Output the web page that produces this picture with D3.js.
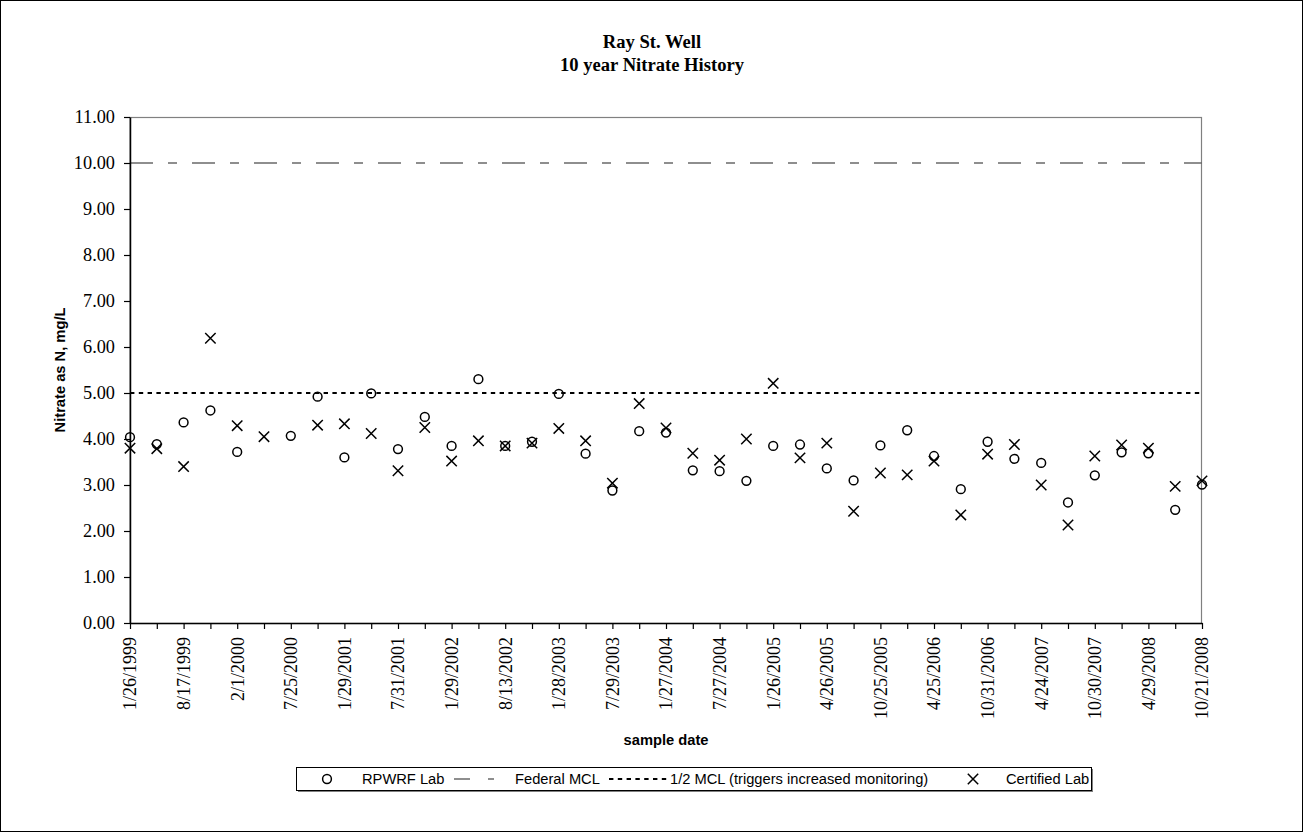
<!DOCTYPE html>
<html>
<head>
<meta charset="utf-8">
<script src="https://cdn.jsdelivr.net/npm/d3@7"></script>
<style>
  html, body { margin: 0; padding: 0; background: #fff; }
  svg { display: block; }
</style>
</head>
<body>
<svg id="chart" width="1303" height="832"></svg>
<script>
// Sample dates in order; only every other date is printed on the axis.
const sampleDates = [
  "1/26/1999", null, "8/17/1999", null, "2/1/2000", null, "7/25/2000", null,
  "1/29/2001", null, "7/31/2001", null, "1/29/2002", null, "8/13/2002", null,
  "1/28/2003", null, "7/29/2003", null, "1/27/2004", null, "7/27/2004", null,
  "1/26/2005", null, "4/26/2005", null, "10/25/2005", null, "4/25/2006", null,
  "10/31/2006", null, "4/24/2007", null, "10/30/2007", null, "4/29/2008", null,
  "10/21/2008"
];

// Nitrate as N (mg/L), in-house RPWRF lab results
const rpwrfLab = [
  4.04, 3.89, 4.36, 4.62, 3.72, null, 4.07, 4.92, 3.60, 4.99,
  3.78, 4.48, 3.85, 5.30, 3.85, 3.94, 4.98, 3.68, 2.88, 4.17,
  4.14, 3.32, 3.30, 3.09, 3.85, 3.88, 3.36, 3.10, 3.86, 4.19,
  3.63, 2.91, 3.94, 3.57, 3.48, 2.62, 3.21, 3.71, 3.69, 2.46,
  3.01
];

// Nitrate as N (mg/L), certified lab results
const certifiedLab = [
  3.80, 3.79, 3.40, 6.19, 4.29, 4.05, null, 4.30, 4.33, 4.12,
  3.31, 4.25, 3.52, 3.96, 3.85, 3.91, 4.23, 3.96, 3.04, 4.77,
  4.24, 3.69, 3.54, 4.00, 5.21, 3.59, 3.91, 2.43, 3.26, 3.22,
  3.52, 2.35, 3.67, 3.88, 3.00, 2.13, 3.63, 3.87, 3.80, 2.97,
  3.09
];

const federalMCL = 10;
const halfMCL = 5;
const yTicks = [0, 1, 2, 3, 4, 5, 6, 7, 8, 9, 10, 11];

const W = 1303, H = 832;
const plot = { left: 130, right: 1202, top: 117, bottom: 623 };
const serif = "'Liberation Serif', 'Times New Roman', serif";
const sans = "'Liberation Sans', Arial, sans-serif";

const svg = d3.select("#chart");

// chart border
svg.append("rect")
  .attr("x", 0.5).attr("y", 0.5)
  .attr("width", W - 1).attr("height", H - 1)
  .attr("fill", "#fff").attr("stroke", "#000").attr("stroke-width", 1);

const x = d3.scalePoint()
  .domain(d3.range(sampleDates.length))
  .range([plot.left, plot.right]);

const y = d3.scaleLinear()
  .domain([0, 11])
  .range([plot.bottom, plot.top]);

// plot area frame
svg.append("rect")
  .attr("x", plot.left).attr("y", plot.top + 0.5)
  .attr("width", plot.right - plot.left - 0.5)
  .attr("height", plot.bottom - plot.top)
  .attr("fill", "none").attr("stroke", "#808080").attr("stroke-width", 1.2);

// title
const title = svg.append("text")
  .attr("text-anchor", "middle")
  .attr("font-family", serif)
  .attr("font-weight", "bold")
  .attr("font-size", "18.6px")
  .attr("fill", "#000");
title.append("tspan").attr("x", 652).attr("y", 47.5).text("Ray St. Well");
title.append("tspan").attr("x", 652).attr("y", 70.5).text("10 year Nitrate History");

// regulatory reference lines
svg.append("line")
  .attr("x1", plot.left).attr("x2", plot.right)
  .attr("y1", y(federalMCL)).attr("y2", y(federalMCL))
  .attr("stroke", "#6a6a6a").attr("stroke-width", 1.6)
  .attr("stroke-dasharray", "23,15,9,15");

svg.append("line")
  .attr("x1", plot.left).attr("x2", plot.right)
  .attr("y1", y(halfMCL)).attr("y2", y(halfMCL))
  .attr("stroke", "#000").attr("stroke-width", 2)
  .attr("stroke-dasharray", "4.4,4.4");

// y axis
const yAxis = svg.append("g")
  .attr("transform", `translate(${plot.left},0)`)
  .call(d3.axisLeft(y)
    .tickValues(yTicks)
    .tickFormat(d3.format(".2f"))
    .tickSize(6)
    .tickSizeOuter(0)
    .tickPadding(9));
yAxis.select(".domain").attr("stroke", "#000").attr("stroke-width", 1.5);
yAxis.selectAll(".tick line").attr("stroke", "#000").attr("stroke-width", 1.2);
yAxis.selectAll(".tick text")
  .attr("font-family", serif).attr("font-size", "18.3px").attr("fill", "#000");

// x axis: a tick per sample, label on every other
const xAxis = svg.append("g")
  .attr("transform", `translate(0,${plot.bottom})`)
  .call(d3.axisBottom(x)
    .tickSize(6)
    .tickSizeOuter(0)
    .tickFormat(i => sampleDates[i] || ""));
xAxis.select(".domain").attr("stroke", "#000").attr("stroke-width", 1.5);
xAxis.selectAll(".tick line").attr("stroke", "#000").attr("stroke-width", 1.2);
xAxis.selectAll(".tick text")
  .attr("font-family", serif).attr("font-size", "18px").attr("fill", "#000")
  .attr("transform", "rotate(-90)")
  .attr("x", -14).attr("y", 0).attr("dy", "0.33em")
  .style("text-anchor", "end");

// axis titles
svg.append("text")
  .attr("x", 666).attr("y", 745)
  .attr("text-anchor", "middle")
  .attr("font-family", sans).attr("font-weight", "bold").attr("font-size", "14.7px")
  .text("sample date");

svg.append("text")
  .attr("transform", `translate(65,${(plot.top + plot.bottom) / 2}) rotate(-90)`)
  .attr("text-anchor", "middle")
  .attr("font-family", sans).attr("font-weight", "bold").attr("font-size", "14.7px")
  .text("Nitrate as N, mg/L");

// markers
const crossPath = s => `M${-s},${-s}L${s},${s}M${-s},${s}L${s},${-s}`;

svg.append("g").selectAll("circle")
  .data(rpwrfLab.map((v, i) => ({ i, v })).filter(d => d.v != null))
  .join("circle")
  .attr("cx", d => x(d.i)).attr("cy", d => y(d.v))
  .attr("r", 4.4)
  .attr("fill", "none").attr("stroke", "#000").attr("stroke-width", 1.5);

svg.append("g").selectAll("path")
  .data(certifiedLab.map((v, i) => ({ i, v })).filter(d => d.v != null))
  .join("path")
  .attr("transform", d => `translate(${x(d.i)},${y(d.v)})`)
  .attr("d", crossPath(5.2))
  .attr("fill", "none").attr("stroke", "#000").attr("stroke-width", 1.5);

// legend
const lg = svg.append("g");
const lgBox = { x: 296, y: 767, w: 795, h: 23 };
lg.append("rect")
  .attr("x", lgBox.x + 2).attr("y", lgBox.y + 2)
  .attr("width", lgBox.w).attr("height", lgBox.h)
  .attr("fill", "#808080");
lg.append("rect")
  .attr("x", lgBox.x + 0.5).attr("y", lgBox.y + 0.5)
  .attr("width", lgBox.w).attr("height", lgBox.h)
  .attr("fill", "#fff").attr("stroke", "#000").attr("stroke-width", 1);

const ly = lgBox.y + lgBox.h / 2 + 0.5;
const legendText = (tx, label) => lg.append("text")
  .attr("x", tx).attr("y", ly).attr("dy", "0.36em")
  .attr("font-family", sans).attr("font-size", "14.7px").attr("fill", "#000")
  .text(label);

lg.append("circle")
  .attr("cx", 327).attr("cy", ly).attr("r", 4.4)
  .attr("fill", "none").attr("stroke", "#000").attr("stroke-width", 1.5);
legendText(362, "RPWRF Lab");

lg.append("line")
  .attr("x1", 454).attr("x2", 494).attr("y1", ly).attr("y2", ly)
  .attr("stroke", "#6a6a6a").attr("stroke-width", 1.6)
  .attr("stroke-dasharray", "16,18,6,20");
legendText(515, "Federal MCL");

lg.append("line")
  .attr("x1", 609).attr("x2", 668).attr("y1", ly).attr("y2", ly)
  .attr("stroke", "#000").attr("stroke-width", 2)
  .attr("stroke-dasharray", "4.4,4.4");
legendText(670, "1/2 MCL (triggers increased monitoring)");

lg.append("path")
  .attr("transform", `translate(973,${ly})`)
  .attr("d", crossPath(5.2))
  .attr("fill", "none").attr("stroke", "#000").attr("stroke-width", 1.5);
legendText(1006, "Certified Lab");
</script>
</body>
</html>
